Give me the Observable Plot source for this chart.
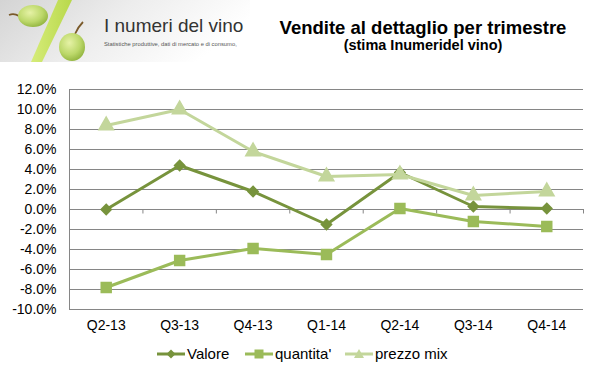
<!DOCTYPE html>
<html>
<head>
<meta charset="utf-8">
<script src="https://cdn.jsdelivr.net/npm/d3@7"></script>
<script src="https://cdn.jsdelivr.net/npm/@observablehq/plot@0.6"></script>
<style>
  html, body { margin: 0; padding: 0; background: #fff; }
  #root { position: relative; width: 598px; height: 377px; overflow: hidden; font-family: "Liberation Sans", Arial, sans-serif; }
  #logo { position: absolute; left: 0; top: 0; }
  #title { position: absolute; left: 250px; width: 346px; top: 17px; text-align: center; font-weight: bold; font-size: 18.5px; color: #000; }
  #subtitle { position: absolute; left: 250px; width: 346px; top: 37px; text-align: center; font-weight: bold; font-size: 14.5px; color: #000; }
  #chart { position: absolute; left: 0; top: 70px; }
  #legend { position: absolute; top: 345px; left: 0; width: 598px; height: 20px; font-size: 15px; color: #000; }
  .item { position: absolute; top: 0; display: flex; align-items: center; white-space: nowrap; }
  .item svg { margin-right: 1px; }
</style>
</head>
<body>
<div id="root">
  <svg id="logo" width="250" height="62" viewBox="0 0 250 62">
    <defs>
      <linearGradient id="bg" x1="0" y1="0" x2="1" y2="0.3">
        <stop offset="0" stop-color="#d4d4d4"/>
        <stop offset="0.5" stop-color="#ededed"/>
        <stop offset="1" stop-color="#ffffff"/>
      </linearGradient>
      <radialGradient id="grape" cx="0.4" cy="0.35" r="0.7">
        <stop offset="0" stop-color="#e6f2a6"/>
        <stop offset="0.6" stop-color="#bcd86a"/>
        <stop offset="1" stop-color="#8fb23c"/>
      </radialGradient>
      <linearGradient id="slash" x1="0" y1="0" x2="1" y2="0">
        <stop offset="0" stop-color="#d6ec7a"/>
        <stop offset="1" stop-color="#b8d84a"/>
      </linearGradient>
    </defs>
    <rect x="0" y="0" width="250" height="62" fill="url(#bg)"/>
    <path d="M9,15 Q14,13 19,16" stroke="#7a5a2a" stroke-width="1.8" fill="none"/>
    <ellipse cx="33" cy="16" rx="15" ry="11" fill="url(#grape)"/>
    <polygon points="58,0 72,0 42,62 31,62" fill="url(#slash)"/>
    <path d="M83,22 Q78,27 75,34" stroke="#7a5a2a" stroke-width="1.8" fill="none"/>
    <ellipse cx="72" cy="47" rx="13" ry="14" fill="url(#grape)"/>
    <text x="104" y="32" font-size="19" fill="#333" font-family="Liberation Sans, Arial, sans-serif">I numeri del vino</text>
    <text x="104" y="46" font-size="5.8" fill="#555" font-family="Liberation Sans, Arial, sans-serif">Statistiche produttive, dati di mercato e di consumo,</text>
  </svg>
  <div id="title">Vendite al dettaglio per trimestre</div>
  <div id="subtitle">(stima Inumeridel vino)</div>
  <div id="chart"></div>
  <div id="legend"></div>
</div>
<script>
const categories = ["Q2-13", "Q3-13", "Q4-13", "Q1-14", "Q2-14", "Q3-14", "Q4-14"];
const valore = [0.0, 4.4, 1.8, -1.5, 3.7, 0.3, 0.1];
const quantita = [-7.8, -5.1, -3.9, -4.5, 0.1, -1.2, -1.7];
const prezzoMix = [8.4, 10.0, 5.8, 3.3, 3.5, 1.4, 1.8];
const seriesNames = ["Valore", "quantita'", "prezzo mix"];
const yTicks = [-10, -8, -6, -4, -2, 0, 2, 4, 6, 8, 10, 12];

const colors = { "Valore": "#77933C", "quantita'": "#9BBB59", "prezzo mix": "#C3D69B" };
const symbols = { "Valore": "diamond2", "quantita'": "square", "prezzo mix": "triangle" };
const radii = { "Valore": 4.6, "quantita'": 5.6, "prezzo mix": 5.4 };
const legendLeft = { "Valore": 157, "quantita'": 245, "prezzo mix": 345 };

const seriesValues = [valore, quantita, prezzoMix];
const rows = [];
seriesNames.forEach((s, k) => {
  categories.forEach((c, i) => rows.push({ series: s, cat: c, xi: i + 0.5, value: seriesValues[k][i] }));
});
const boundaries = d3.range(1, categories.length + 1);

const marks = [
  Plot.ruleY(yTicks, { stroke: "#868686", strokeWidth: 1 }),
  Plot.ruleX([0], { y1: -10, y2: 12, stroke: "#868686" }),
  Plot.ruleX(boundaries, { y1: 0, y2: -0.45, stroke: "#868686" }),
  Plot.axisY({ ticks: yTicks, tickFormat: d => d.toFixed(1) + "%", tickSize: 0, tickPadding: 13, fontSize: 14, color: "#000", label: null }),
  Plot.axisX({ ticks: categories.map((c, i) => i + 0.5), tickFormat: d => categories[Math.round(d - 0.5)], tickSize: 0, tickPadding: 11, fontSize: 14, color: "#000", label: null })
];
seriesNames.forEach(s => {
  const d = rows.filter(r => r.series === s);
  marks.push(Plot.line(d, { x: "xi", y: "value", stroke: colors[s], strokeWidth: 3 }));
  marks.push(Plot.dot(d, { x: "xi", y: "value", symbol: symbols[s], r: radii[s], fill: colors[s], stroke: colors[s] }));
});

const chart = Plot.plot({
  width: 598,
  height: 272,
  marginLeft: 69,
  marginRight: 15,
  marginTop: 19,
  marginBottom: 33,
  style: { fontFamily: "Liberation Sans, Arial, sans-serif", background: "transparent" },
  x: { type: "linear", domain: [0, categories.length], axis: null, label: null },
  y: { domain: [-10, 12], axis: null, label: null },
  marks
});
document.getElementById("chart").appendChild(chart);

const legend = document.getElementById("legend");
const symPaths = {
  "Valore": "M14,1.5 L18.5,6 L14,10.5 L9.5,6 Z",
  "quantita'": "M9.5,1.5 H18.5 V10.5 H9.5 Z",
  "prezzo mix": "M14,1 L19,10 L9,10 Z"
};
seriesNames.forEach(s => {
  const item = document.createElement("div");
  item.className = "item";
  item.style.left = legendLeft[s] + "px";
  item.innerHTML = `<svg width="29" height="12"><line x1="0" y1="6" x2="28" y2="6" stroke="${colors[s]}" stroke-width="3"/><path d="${symPaths[s]}" fill="${colors[s]}"/></svg><span>${s}</span>`;
  legend.appendChild(item);
});
</script>
</body>
</html>
